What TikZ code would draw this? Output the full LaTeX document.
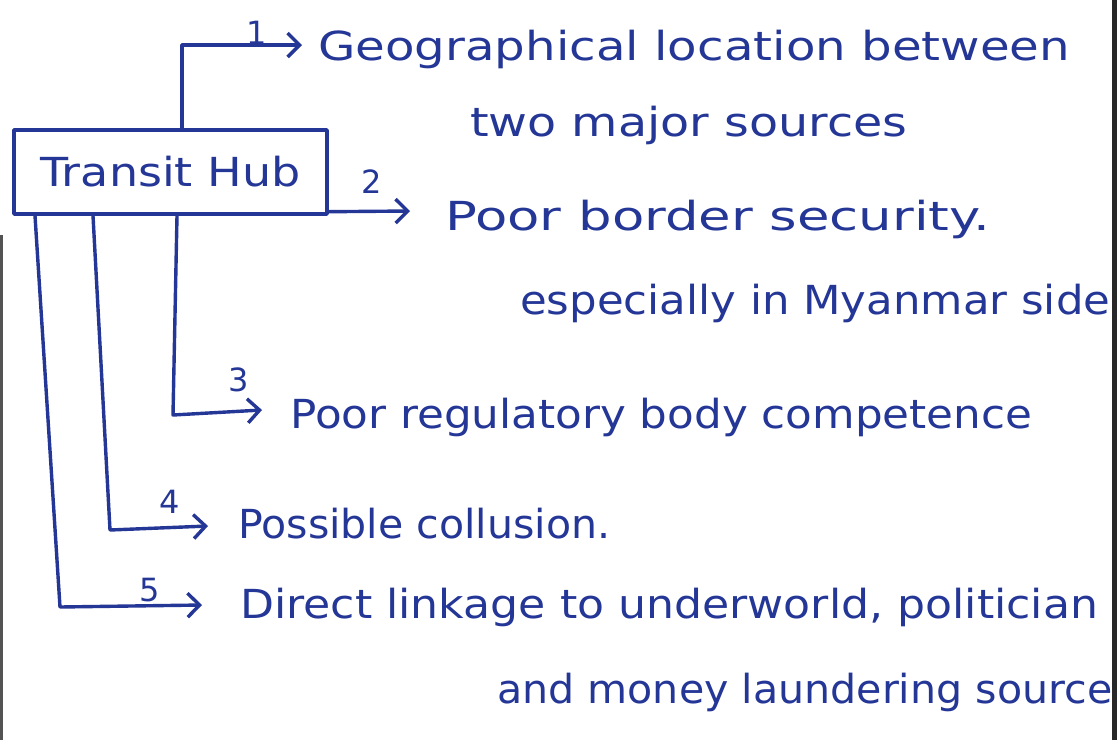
\documentclass[tikz,border=0pt]{standalone}
\usepackage{fontspec}
\setmainfont{DejaVu Sans}
\usetikzlibrary{arrows.meta}
\definecolor{ink}{RGB}{36,54,150}
\definecolor{scanedge}{RGB}{40,40,40}
% stretch a line of text to a given width, keeping its height
\newcommand{\hwline}[2]{\resizebox{#1}{\height}{#2}}
\begin{document}
\begin{tikzpicture}[x=1pt,y=-1pt,
  pen/.style={draw=ink,line width=3.4pt,line cap=round,line join=round},
  arr/.style={pen,-{Straight Barb[length=12pt,width=24pt]}},
  note/.style={anchor=base west,inner sep=0pt,text=ink,font=\fontsize{40}{44}\selectfont},
  num/.style={inner sep=0pt,text=ink,font=\fontsize{32}{34}\selectfont},
]
% sheet
\fill[white] (0,0) rectangle (1120,740);
\useasboundingbox (0,0) rectangle (1120,740);
\fill[scanedge] (1112,0) rectangle (1117,740);
\fill[scanedge!80] (0,235) rectangle (2.5,740);

% central box
\node[pen,rectangle,minimum width=313pt,minimum height=84pt,inner sep=0pt,
      text=ink,font=\fontsize{40}{44}\selectfont] (hub) at (170.5,172)
  {\hwline{260pt}{Transit Hub}};

% factors
\node[note] (t1)  at (318,60)  {\hwline{752pt}{Geographical location between}};
\node[note] (t1b) at (470,136) {\hwline{437pt}{two major sources}};
\node[note] (t2)  at (445,230) {\hwline{545pt}{Poor border security.}};
\node[note] (t2b) at (520,314) {\hwline{590pt}{especially in Myanmar side}};
\node[note] (t3)  at (290,428) {\hwline{742pt}{Poor regulatory body competence}};
\node[note] (t4)  at (238,538) {\hwline{372pt}{Possible collusion.}};
\node[note] (t5)  at (240,618) {\hwline{858pt}{Direct linkage to underworld, politician}};
\node[note] (t5b) at (497,703) {\hwline{615pt}{and money laundering source}};

% arrow ends in front of each factor
\coordinate (a1) at (302,45);
\coordinate (a2) at (410,211);
\coordinate (a3) at (262,410);
\coordinate (a4) at (208,526);
\coordinate (a5) at (202,605);

% connectors
\draw[arr] ([xshift=11.5pt]hub.north) |- (a1);
\draw[arr] ([yshift=4pt]hub.south east) -- (a2);
\draw[arr] ([xshift=6.5pt]hub.south) -- (173,415) -- (a3);
\draw[arr] ([xshift=-77.5pt]hub.south) -- (110,530) -- (a4);
\draw[arr] ([xshift=-135.5pt]hub.south) -- (60,607) -- (a5);

% numbers
\node[num] (n1) at (257,33)  {1};
\node[num] (n2) at (372,182) {2};
\node[num] (n3) at (239,380) {3};
\node[num] (n4) at (170,502) {4};
\node[num] (n5) at (150,590) {5};
\end{tikzpicture}
\end{document}
